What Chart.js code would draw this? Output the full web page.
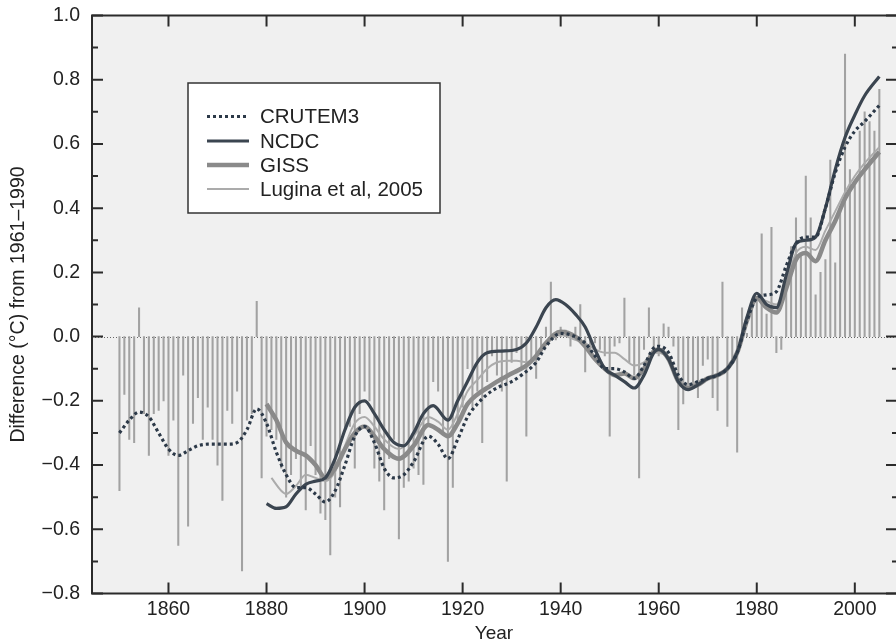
<!DOCTYPE html>
<html>
<head>
<meta charset="utf-8">
<script src="https://cdn.jsdelivr.net/npm/chart.js@4.4.1/dist/chart.umd.min.js"></script>
<style>
  html, body { margin: 0; padding: 0; background: #fff; }
</style>
</head>
<body>
<canvas id="chart" width="896" height="643"></canvas>
<script>
// annual anomalies (bars), one per year starting at firstYear
const firstYear = 1850;
const annual = [
  -0.48, -0.18, -0.32, -0.33, 0.09, -0.24, -0.37, -0.24, -0.23, -0.20,
  -0.37, -0.26, -0.65, -0.12, -0.59, -0.27, -0.19, -0.32, -0.22, -0.32,
  -0.40, -0.51, -0.23, -0.27, -0.17, -0.73, -0.26, -0.24, 0.11, -0.44,
  -0.31, -0.29, -0.32, -0.41, -0.50, -0.43, -0.38, -0.47, -0.54, -0.34,
  -0.43, -0.55, -0.57, -0.68, -0.50, -0.53, -0.29, -0.28, -0.41, -0.24,
  -0.17, -0.20, -0.41, -0.45, -0.54, -0.38, -0.32, -0.63, -0.47, -0.45,
  -0.41, -0.43, -0.46, -0.27, -0.14, -0.17, -0.30, -0.70, -0.47, -0.26,
  -0.22, -0.10, -0.22, -0.17, -0.33, -0.14, -0.06, -0.12, -0.17, -0.45,
  -0.08, -0.05, -0.10, -0.31, -0.07, -0.13, -0.05, 0.03, 0.17, -0.01,
  0.03, 0.02, -0.03, 0.03, 0.10, -0.11, -0.04, -0.02, -0.04, -0.06,
  -0.31, -0.03, -0.02, 0.12, -0.08, -0.12, -0.44, -0.04, 0.09, -0.04,
  -0.06, 0.04, 0.03, -0.03, -0.29, -0.21, -0.15, -0.15, -0.19, -0.09,
  -0.07, -0.19, -0.23, 0.17, -0.28, -0.08, -0.36, 0.09, 0.01, 0.10,
  0.12, 0.32, 0.07, 0.34, -0.05, -0.04, 0.18, 0.28, 0.37, 0.26,
  0.50, 0.37, 0.13, 0.20, 0.24, 0.55, 0.23, 0.40, 0.88, 0.52,
  0.47, 0.64, 0.70, 0.67, 0.64, 0.77
];

// smoothed series
const crutemYears = [1850,1852,1854,1856,1858,1860,1862,1864,1866,1868,1870,1872,1874,1876,1878,1880,1882,1884,1886,1888,1890,1892,1894,1896,1898,1900,1902,1904,1906,1908,1910,1913,1915,1917,1919,1921,1923,1925,1927,1930,1932,1935,1937,1940,1943,1945,1947,1949,1951,1953,1955,1957,1959,1960,1962,1964,1966,1968,1970,1972,1974,1976,1978,1980,1982,1984,1986,1988,1990,1992,1994,1996,1998,2000,2002,2005];
const crutemVals = [-0.30,-0.26,-0.235,-0.25,-0.30,-0.35,-0.37,-0.355,-0.34,-0.335,-0.335,-0.335,-0.33,-0.29,-0.225,-0.27,-0.36,-0.43,-0.47,-0.47,-0.49,-0.515,-0.48,-0.40,-0.31,-0.28,-0.33,-0.41,-0.44,-0.43,-0.39,-0.31,-0.335,-0.38,-0.32,-0.25,-0.21,-0.18,-0.16,-0.14,-0.12,-0.08,-0.03,0.01,0.00,-0.02,-0.06,-0.10,-0.10,-0.11,-0.13,-0.09,-0.035,-0.03,-0.05,-0.12,-0.15,-0.14,-0.13,-0.12,-0.10,-0.05,0.05,0.12,0.13,0.14,0.22,0.29,0.31,0.31,0.40,0.51,0.59,0.64,0.67,0.72];

const ncdcYears = [1880,1882,1884,1886,1888,1890,1892,1894,1896,1898,1900,1902,1904,1906,1908,1910,1912,1914,1917,1919,1921,1923,1925,1928,1931,1933,1935,1937,1939,1941,1943,1945,1947,1949,1951,1953,1955,1957,1959,1960,1962,1964,1966,1968,1970,1972,1974,1976,1978,1980,1982,1984,1986,1988,1990,1992,1994,1996,1998,2000,2002,2005];
const ncdcVals = [-0.52,-0.535,-0.53,-0.49,-0.46,-0.45,-0.44,-0.38,-0.29,-0.22,-0.20,-0.24,-0.29,-0.33,-0.34,-0.30,-0.24,-0.215,-0.26,-0.20,-0.14,-0.08,-0.05,-0.045,-0.04,-0.02,0.03,0.09,0.115,0.10,0.07,0.03,-0.04,-0.10,-0.12,-0.14,-0.16,-0.12,-0.05,-0.04,-0.07,-0.14,-0.165,-0.15,-0.13,-0.12,-0.10,-0.05,0.06,0.135,0.10,0.09,0.19,0.29,0.30,0.31,0.40,0.52,0.62,0.69,0.75,0.81];

const gissYears = [1880,1882,1884,1886,1888,1890,1892,1894,1896,1898,1900,1902,1904,1907,1910,1913,1915,1917,1919,1921,1923,1925,1927,1930,1933,1935,1937,1940,1943,1945,1947,1949,1951,1953,1955,1957,1959,1960,1962,1964,1966,1968,1970,1972,1974,1976,1978,1980,1982,1984,1986,1988,1990,1992,1994,1996,1998,2000,2002,2005];
const gissVals = [-0.21,-0.26,-0.33,-0.355,-0.37,-0.40,-0.44,-0.41,-0.35,-0.30,-0.28,-0.31,-0.35,-0.38,-0.34,-0.275,-0.29,-0.31,-0.27,-0.21,-0.18,-0.16,-0.14,-0.115,-0.09,-0.06,-0.02,0.015,0.00,-0.03,-0.07,-0.10,-0.12,-0.115,-0.13,-0.10,-0.045,-0.04,-0.07,-0.14,-0.16,-0.15,-0.13,-0.12,-0.10,-0.05,0.05,0.12,0.09,0.075,0.15,0.24,0.26,0.235,0.30,0.36,0.43,0.48,0.52,0.575];

const luginaYears = [1881,1883,1884,1886,1888,1890,1892,1894,1896,1898,1900,1902,1904,1907,1910,1913,1915,1917,1919,1921,1923,1925,1927,1929,1931,1933,1935,1937,1940,1943,1945,1947,1949,1951,1953,1955,1957,1959,1960,1962,1964,1966,1968,1970,1972,1974,1976,1978,1980,1982,1984,1986,1988,1990,1992,1994,1996,1998,2000,2002,2005];
const luginaVals = [-0.44,-0.48,-0.49,-0.465,-0.43,-0.44,-0.45,-0.42,-0.34,-0.27,-0.25,-0.28,-0.32,-0.35,-0.31,-0.25,-0.265,-0.29,-0.24,-0.17,-0.135,-0.10,-0.08,-0.075,-0.075,-0.08,-0.06,-0.02,0.005,-0.01,-0.02,-0.04,-0.05,-0.05,-0.07,-0.09,-0.08,-0.05,-0.05,-0.07,-0.13,-0.15,-0.14,-0.13,-0.12,-0.10,-0.05,0.05,0.12,0.11,0.10,0.17,0.26,0.28,0.27,0.33,0.39,0.45,0.50,0.54,0.59];

const FONT = '"Liberation Sans", Arial, Helvetica, sans-serif';
Chart.defaults.font.family = FONT;
Chart.defaults.color = '#222';

const pts = (xs, ys) => xs.map((x, i) => ({ x: x, y: ys[i] }));

// plot background, zero line, box frame with inward ticks, legend inside the plot
const framePlugin = {
  id: 'frame',
  beforeDatasetsDraw(chart) {
    const { ctx, chartArea: a, scales: { y } } = chart;
    ctx.save();
    ctx.fillStyle = '#f0f0f0';
    ctx.fillRect(a.left, a.top, a.right - a.left, a.bottom - a.top);
    const y0 = Math.round(y.getPixelForValue(0)) + 0.5;
    ctx.strokeStyle = '#666';
    ctx.lineWidth = 1;
    ctx.setLineDash([1, 2]);
    ctx.beginPath();
    ctx.moveTo(a.left, y0);
    ctx.lineTo(a.right, y0);
    ctx.stroke();
    ctx.restore();
  },
  afterDatasetsDraw(chart) {
    const { ctx, chartArea: a, scales: { x, y } } = chart;
    ctx.save();
    ctx.strokeStyle = '#2b2b2b';
    ctx.lineWidth = 2;
    // right edge sits just past the canvas, as in the cropped original
    ctx.strokeRect(a.left, a.top, a.right - a.left + 2, a.bottom - a.top);

    ctx.beginPath();
    x.ticks.forEach(t => {
      const px = x.getPixelForValue(t.value);
      ctx.moveTo(px, a.bottom); ctx.lineTo(px, a.bottom - 11);
      ctx.moveTo(px, a.top); ctx.lineTo(px, a.top + 11);
    });
    y.ticks.forEach((t, i) => {
      const py = y.getPixelForValue(t.value);
      ctx.moveTo(a.left, py); ctx.lineTo(a.left + 11, py);
      ctx.moveTo(a.right, py); ctx.lineTo(a.right - 10, py);
      if (i < y.ticks.length - 1) {
        const pm = y.getPixelForValue(t.value + 0.1);
        ctx.moveTo(a.left, pm); ctx.lineTo(a.left + 6, pm);
        ctx.moveTo(a.right, pm); ctx.lineTo(a.right - 4, pm);
      }
    });
    ctx.stroke();

    // legend box
    const bx = 188, by = 83, bw = 252, bh = 130;
    ctx.fillStyle = '#fff';
    ctx.fillRect(bx, by, bw, bh);
    ctx.lineWidth = 1.5;
    ctx.strokeStyle = '#333';
    ctx.strokeRect(bx, by, bw, bh);
    const rows = [116.5, 141, 165, 189];
    ctx.font = '20.5px ' + FONT;
    ctx.textBaseline = 'middle';
    ctx.textAlign = 'left';
    chart.data.datasets.filter(d => d.type === 'line').forEach((d, i) => {
      const ry = rows[i];
      ctx.save();
      ctx.strokeStyle = d.borderColor;
      ctx.lineWidth = d.borderWidth;
      ctx.setLineDash(d.borderDash || []);
      ctx.beginPath();
      ctx.moveTo(207, ry);
      ctx.lineTo(249, ry);
      ctx.stroke();
      ctx.restore();
      ctx.fillStyle = '#222';
      ctx.fillText(d.label, 260, ry + 1);
    });
    ctx.restore();
  }
};

new Chart(document.getElementById('chart'), {
  type: 'bar',
  data: {
    datasets: [
      {
        type: 'line', label: 'CRUTEM3', data: pts(crutemYears, crutemVals),
        borderColor: '#2c3948', borderWidth: 3.2, borderDash: [3, 3],
        pointRadius: 0, cubicInterpolationMode: 'monotone', order: 1
      },
      {
        type: 'line', label: 'NCDC', data: pts(ncdcYears, ncdcVals),
        borderColor: '#3b4550', borderWidth: 3.2,
        pointRadius: 0, cubicInterpolationMode: 'monotone', order: 2
      },
      {
        type: 'line', label: 'GISS', data: pts(gissYears, gissVals),
        borderColor: '#8a8a8a', borderWidth: 4.5,
        pointRadius: 0, cubicInterpolationMode: 'monotone', order: 3
      },
      {
        type: 'line', label: 'Lugina et al, 2005', data: pts(luginaYears, luginaVals),
        borderColor: '#ababab', borderWidth: 2,
        pointRadius: 0, cubicInterpolationMode: 'monotone', order: 4
      },
      {
        type: 'bar', label: 'annual',
        data: annual.map((v, i) => ({ x: firstYear + i, y: v })),
        backgroundColor: '#a2a2a2', barThickness: 1.4, order: 10
      }
    ]
  },
  options: {
    responsive: false,
    animation: false,
    layout: { padding: { top: 15.5, right: 0, left: 0, bottom: 0 } },
    plugins: { legend: { display: false }, tooltip: { enabled: false } },
    scales: {
      x: {
        type: 'linear', min: 1844.4, max: 2008.4, offset: false,
        grid: { display: false, drawTicks: false }, border: { display: false },
        ticks: {
          stepSize: 20, includeBounds: false, padding: 4, maxRotation: 0, autoSkip: false,
          font: { size: 19.5 }, callback: v => String(v)
        },
        title: { display: true, text: 'Year', font: { size: 19, lineHeight: 1 }, padding: { top: 0, bottom: 0 } },
        afterFit: s => { s.height = 49.5; s.paddingLeft = 0; s.paddingRight = 0; }
      },
      y: {
        min: -0.8, max: 1.0,
        grid: { display: false, drawTicks: false }, border: { display: false },
        ticks: {
          stepSize: 0.2, padding: 12, font: { size: 19.5, lineHeight: 0.6 },
          callback: v => Math.abs(v) < 1e-9 ? '0.0' : (v < 0 ? '\u2212' : '') + Math.abs(v).toFixed(1)
        },
        title: { display: true, text: 'Difference (°C) from 1961–1990', font: { size: 19.5, lineHeight: 1 }, padding: { top: 9, bottom: 0 } },
        afterFit: s => { s.width = 92; s.paddingTop = 0; s.paddingBottom = 0; }
      }
    }
  },
  plugins: [framePlugin]
});
</script>
</body>
</html>
